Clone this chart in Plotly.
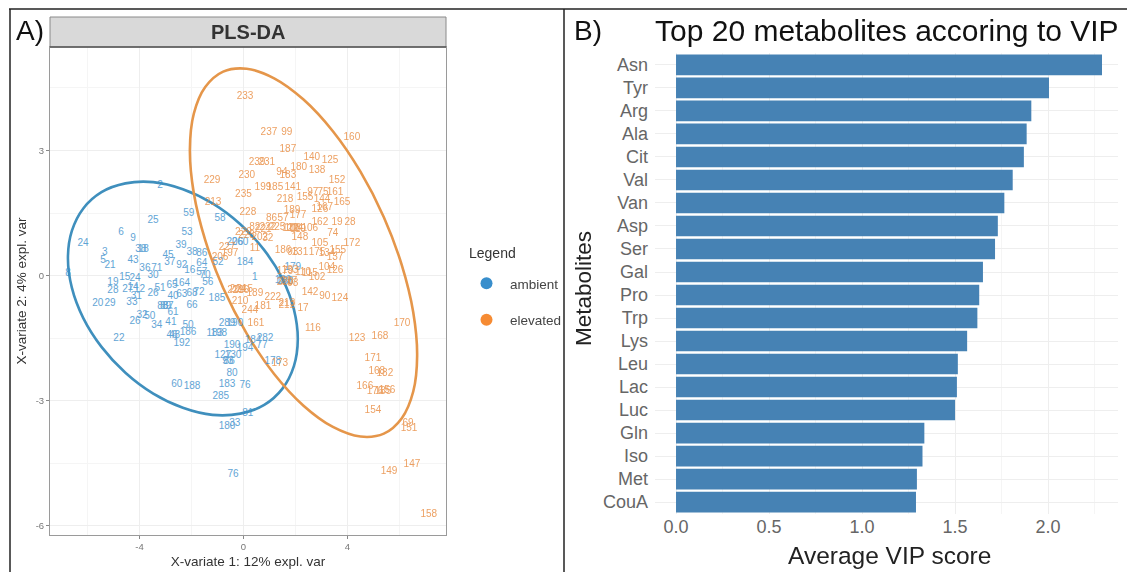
import plotly.graph_objects as go

# ---------- panel A data ----------
amb_labels = ["24","6","9","3","5","21","43","38","18","25","2","59","53","39","58","45","37","92","36","71","30",
 "38","86","52","64","16","57","70","56","184","1","260","206","8","19","15","24","28","20","29","33","14","27","12","31",
 "26","51","65","40","63","68","72","164","88","89","87","66","61","185","32","26","50","34","41","22","50","186",
 "46","48","192","183","198","289","190","190","194","184","77","282","127","130","93","86","80","183","76","60",
 "188","285","81","33","180","76","178","179","139","138"]
amb_x = [-6.17,-4.71,-4.25,-5.33,-5.40,-5.13,-4.25,-3.95,-3.85,-3.48,-3.21,-2.10,-2.17,-2.40,-0.90,-2.90,-2.83,-2.37,-3.79,-3.33,-3.48,
 -1.98,-1.60,-0.98,-1.60,-2.06,-1.60,-1.48,-1.37,0.06,0.44,-0.13,-0.33,-6.75,-5.02,-4.56,-4.17,-5.02,-5.60,-5.13,-4.29,-4.25,-4.45,-4.00,-4.12,
 -3.48,-3.21,-2.75,-2.71,-2.37,-1.98,-1.71,-2.37,-3.10,-3.00,-2.90,-1.98,-2.71,-1.02,-3.90,-4.17,-3.60,-3.33,-2.79,-4.79,-2.13,-2.13,
 -2.75,-2.65,-2.37,-1.10,-0.95,-0.63,-0.33,-0.44,0.06,0.37,0.71,0.83,-0.79,-0.40,-0.60,-0.55,-0.44,-0.63,0.06,-2.56,
 -1.98,-0.87,0.17,-0.33,-0.63,-0.40,1.13,1.90,1.52,1.60]
amb_y = [0.78,1.04,0.90,0.56,0.35,0.25,0.37,0.63,0.63,1.31,2.15,1.50,1.04,0.73,1.38,0.49,0.32,0.25,0.18,0.18,0.01,
 0.56,0.54,0.32,0.30,0.11,0.08,0.01,-0.16,0.32,-0.04,0.80,0.80,0.04,-0.16,-0.04,-0.07,-0.35,-0.68,-0.66,-0.64,-0.28,-0.33,-0.33,-0.50,
 -0.42,-0.30,-0.23,-0.50,-0.45,-0.42,-0.40,-0.18,-0.75,-0.75,-0.75,-0.71,-0.88,-0.56,-0.95,-1.09,-0.99,-1.19,-1.12,-1.52,-1.19,-1.36,
 -1.43,-1.43,-1.62,-1.38,-1.38,-1.14,-1.14,-1.67,-1.74,-1.55,-1.67,-1.52,-1.91,-1.91,-2.05,-2.05,-2.34,-2.60,-2.63,-2.60,
 -2.67,-2.91,-3.30,-3.54,-3.63,-4.78,-2.07,0.20,-0.11,-0.15]

elv_labels = ["233","237","99","187","229","239","231","230","94","183","199","185","235","213","228","218","141","160","140","125",
 "180","138","152","161","165","97","75","155","144","126","167","189","177","57","86","19","28","162","122","108","114","119","106",
 "74","172","155","137","175","134","105","131","93","186","11","82","222","225","202","32","229","223","221","227","197","206","148",
 "133","110","115","102","104","126","93","142","90","124","212","17","116","123","168","170","171","168","182","166","176","185","156",
 "154","69","151","147","149","158","219","214","216","215","189","222","210","244","181","161","213","173","179","220","217"]
elv_x = [0.06,0.98,1.67,1.71,-1.21,0.52,0.90,0.13,1.48,1.71,0.75,1.21,0.00,-1.17,0.17,1.60,1.90,4.17,2.63,3.33,
 2.13,2.83,3.60,3.52,3.79,2.67,3.06,2.37,3.02,2.94,3.13,1.87,2.10,1.52,1.08,3.60,4.10,2.94,1.80,1.90,2.00,2.10,2.55,
 3.44,4.17,3.63,3.52,2.83,3.21,2.94,2.17,1.90,1.52,0.44,0.44,0.94,1.29,0.63,0.94,0.00,0.12,0.76,-0.63,-0.52,-0.90,2.17,
 1.79,2.29,2.55,2.83,3.21,3.52,1.90,2.56,3.13,3.71,1.67,2.29,2.67,4.37,5.25,6.10,4.98,5.13,5.44,4.67,5.06,5.37,5.52,
 4.98,6.33,6.37,6.48,5.60,7.13,-0.30,-0.21,-0.10,0.05,0.44,1.13,-0.13,0.25,0.75,0.48,1.67,1.40,1.60,1.60,1.75]
elv_y = [4.30,3.44,3.42,3.03,2.29,2.72,2.72,2.41,2.46,2.39,2.12,2.12,1.95,1.74,1.52,1.83,2.12,3.30,2.84,2.75,
 2.60,2.51,2.29,1.98,1.74,2.00,2.00,1.88,1.83,1.59,1.64,1.55,1.45,1.38,1.38,1.28,1.28,1.28,1.14,1.14,1.12,1.10,1.14,
 1.02,0.76,0.61,0.44,0.56,0.54,0.78,0.56,0.56,0.61,0.66,1.16,1.16,1.16,0.92,0.90,1.04,0.95,1.10,0.68,0.54,0.44,0.92,
 0.13,0.08,0.05,-0.04,0.20,0.11,-0.18,-0.40,-0.49,-0.54,-0.71,-0.78,-1.28,-1.50,-1.47,-1.14,-2.00,-2.31,-2.34,-2.67,-2.79,-2.77,-2.75,
 -3.23,-3.54,-3.66,-4.52,-4.69,-5.72,-0.35,-0.33,-0.35,-0.33,-0.44,-0.52,-0.61,-0.83,-0.73,-1.16,-0.68,-2.10,0.10,-0.16,-0.14]

amb_ell_x = [2.09,1.94,1.50,0.80,-0.12,-1.19,-2.33,-3.47,-4.54,-5.46,-6.16,-6.60,-6.75,-6.60,-6.16,-5.46,-4.54,-3.47,-2.33,-1.19,-0.12,0.80,1.50,1.94,2.09]
amb_ell_y = [-1.53,-2.17,-2.71,-3.10,-3.31,-3.34,-3.17,-2.83,-2.33,-1.71,-1.02,-0.29,0.43,1.07,1.61,2.00,2.21,2.24,2.07,1.73,1.23,0.61,-0.08,-0.81,-1.53]
orn_ell_x = [6.68,6.53,6.09,5.40,4.50,3.44,2.31,1.18,0.125,-0.78,-1.47,-1.91,-2.06,-1.91,-1.47,-0.78,0.125,1.18,2.31,3.44,4.50,5.40,6.09,6.53,6.68]
orn_ell_y = [-1.92,-2.78,-3.42,-3.79,-3.86,-3.63,-3.12,-2.36,-1.39,-0.30,0.85,1.98,3.02,3.88,4.52,4.89,4.96,4.73,4.22,3.46,2.49,1.40,0.25,-0.88,-1.92]

group_names = ["ambient", "elevated"]
x_ticks_a = [-4, 0, 4]
y_ticks_a = [3, 0, -3, -6]

# ---------- panel B data ----------
metabolites = ["Asn","Tyr","Arg","Ala","Cit","Val","Van","Asp","Ser","Gal","Pro","Trp","Lys","Leu","Lac","Luc","Gln","Iso","Met","CouA"]
vip = [2.29,2.005,1.91,1.885,1.87,1.81,1.765,1.73,1.715,1.65,1.63,1.62,1.565,1.515,1.51,1.50,1.335,1.325,1.295,1.29]

BLUE = "#388ECC"
ORANGE = "#F68B33"
W, H = 1127, 572

def fx(px): return px / W
def fy(py): return 1 - py / H

fig = go.Figure()
fig.add_trace(go.Scatter(x=amb_ell_x, y=amb_ell_y, mode="lines", line=dict(color="#3f8fbd", width=2.6, shape="spline", smoothing=1),
                         showlegend=False, hoverinfo="skip", xaxis="x", yaxis="y"))
fig.add_trace(go.Scatter(x=orn_ell_x, y=orn_ell_y, mode="lines", line=dict(color="#e5964a", width=2.6, shape="spline", smoothing=1),
                         showlegend=False, hoverinfo="skip", xaxis="x", yaxis="y"))
fig.add_trace(go.Scatter(x=amb_x, y=amb_y, text=amb_labels, mode="text", textfont=dict(color="#388ECC", size=10, family="Liberation Sans"),
                         opacity=0.8, showlegend=False, xaxis="x", yaxis="y"))
fig.add_trace(go.Scatter(x=elv_x, y=elv_y, text=elv_labels, mode="text", textfont=dict(color="#E8893C", size=10, family="Liberation Sans"),
                         opacity=0.8, showlegend=False, xaxis="x", yaxis="y"))
fig.add_trace(go.Scatter(x=[None], y=[None], mode="markers", name=group_names[0], marker=dict(color=BLUE, size=12), legendgroup="a", xaxis="x", yaxis="y"))
fig.add_trace(go.Scatter(x=[None], y=[None], mode="markers", name=group_names[1], marker=dict(color=ORANGE, size=12), legendgroup="b", xaxis="x", yaxis="y"))
fig.add_trace(go.Bar(x=vip, y=metabolites, orientation="h", marker=dict(color="#4682B4", line_width=0), width=0.9,
                     showlegend=False, xaxis="x2", yaxis="y2"))

frame = "#222222"
shapes = [
    dict(type="line", xref="paper", yref="paper", x0=fx(9), x1=1, y0=fy(9), y1=fy(9), line=dict(color=frame, width=1.5)),
    dict(type="line", xref="paper", yref="paper", x0=fx(10), x1=fx(10), y0=fy(9), y1=0, line=dict(color=frame, width=1.5)),
    dict(type="line", xref="paper", yref="paper", x0=fx(564), x1=fx(564), y0=fy(9), y1=0, line=dict(color=frame, width=1.5)),
    dict(type="rect", xref="paper", yref="paper", x0=fx(50), x1=fx(446), y0=fy(47), y1=fy(17), fillcolor="#d9d9d9", line=dict(color="#8a8a8a", width=1)),
    dict(type="line", xref="paper", yref="paper", x0=fx(50), x1=fx(446), y0=fy(47), y1=fy(47), line=dict(color="#555555", width=1.5)),
]

def note(text, px, py, size, color="#111111", angle=0):
    return dict(text=text, x=fx(px), y=fy(py), xref="paper", yref="paper", showarrow=False, xanchor="center", yanchor="middle",
                textangle=angle, font=dict(size=size, color=color, family="Liberation Sans"))

annotations = [
    note("A)", 30, 31, 28),
    note("B)", 588, 31, 28),
    note("<b>PLS-DA</b>", 248, 32, 20, "#333333"),
    note("Top 20 metabolites accoring to VIP", 887, 30, 30),
    note("Legend", 492, 253, 14, "#333333"),
    note("Metabolites", 583, 289, 22.5, "#222222", -90),
    note("Average VIP score", 889, 555, 24.5, "#222222"),
]

fig.update_layout(
    width=W, height=H, margin=dict(l=0, r=0, t=0, b=0), paper_bgcolor="white", plot_bgcolor="white",
    showlegend=True, shapes=shapes, annotations=annotations,
    font=dict(family="Liberation Sans"),
    legend=dict(x=fx(463), y=fy(268), xanchor="left", yanchor="top", itemwidth=37,
                font=dict(size=13.5, color="#444444"), tracegroupgap=16, itemclick=False, bgcolor="rgba(0,0,0,0)"),
    xaxis=dict(domain=[fx(50), fx(446)], range=[-7.44, 7.79], tickvals=x_ticks_a, ticktext=["-4", "0", "4"], ticks="outside", ticklen=3, tickcolor="#888888",
               tickfont=dict(size=9.5, color="#777777"), showgrid=True, gridcolor="#eeeeee", gridwidth=1.2, zeroline=False,
               showline=True, linecolor="#9a9a9a", linewidth=1, mirror=True,
               minor=dict(tickvals=[-6, -2, 2, 6], showgrid=True, gridcolor="#f5f5f5", gridwidth=1),
               title=dict(text="X-variate 1: 12% expl. var", font=dict(size=13.5, color="#333333"), standoff=5)),
    yaxis=dict(domain=[fy(535), fy(47)], range=[-6.22, 5.48], tickvals=y_ticks_a, ticktext=["3", "0", "-3", "-6"], ticks="outside", ticklen=3, tickcolor="#888888",
               tickfont=dict(size=9.5, color="#777777"), showgrid=True, gridcolor="#eeeeee", gridwidth=1.2, zeroline=False,
               showline=True, linecolor="#9a9a9a", linewidth=1, mirror=True,
               minor=dict(tickvals=[4.5, 1.5, -1.5, -4.5], showgrid=True, gridcolor="#f5f5f5", gridwidth=1),
               title=dict(text="X-variate 2: 4% expl. var", font=dict(size=13.5, color="#333333"), standoff=5)),
    xaxis2=dict(domain=[fx(655), fx(1118)], range=[-0.113, 2.376], tickvals=[0, 0.5, 1, 1.5, 2], ticktext=["0.0", "0.5", "1.0", "1.5", "2.0"],
                tickfont=dict(size=18, color="#666666"), showgrid=True, gridcolor="#eeeeee", gridwidth=1.2, zeroline=False, anchor="y2",
                minor=dict(tickvals=[0.25, 0.75, 1.25, 1.75, 2.25], showgrid=True, gridcolor="#f5f5f5", gridwidth=1)),
    yaxis2=dict(domain=[fy(514), fy(53)], range=[19.52, -0.52], type="category", categoryorder="array", categoryarray=metabolites,
                tickfont=dict(size=18, color="#666666"), showgrid=True, gridcolor="#eeeeee", gridwidth=1.2, zeroline=False, anchor="x2",
                ticklabelstandoff=6),
)

fig.write_html("out.html", config=dict(displayModeBar=False), post_script="document.body.style.margin='0';document.body.style.overflow='hidden';")
